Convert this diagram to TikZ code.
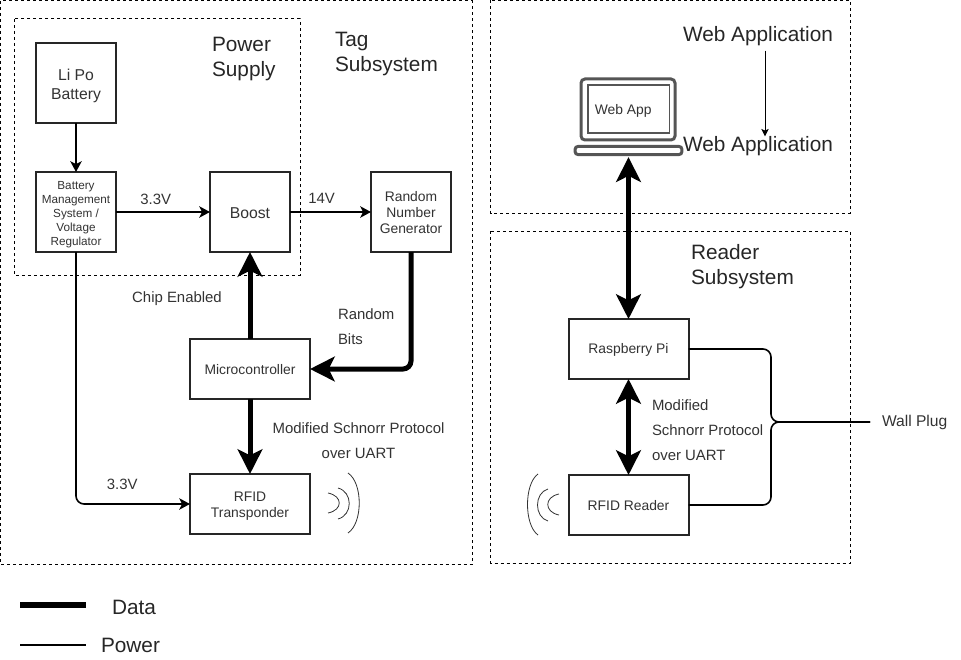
\documentclass[tikz,border=0pt]{standalone}
\usepackage{fontspec}
\setmainfont{Liberation Sans}
\usetikzlibrary{arrows.meta, positioning, calc}
\definecolor{textgray}{RGB}{51, 51, 51}
\definecolor{iconGray}{RGB}{85, 85, 85}
\newcommand{\lift}[1]{\rule{0pt}{#1em}}

\begin{document}
\begin{tikzpicture}[
  x=0.75pt, y=-0.75pt,
  every node/.style={font=\fontsize{11.2}{13}\selectfont, text=textgray, inner sep=0pt, outer sep=0pt},
  block/.style={
    draw=black!85, line width=1.5pt, align=center, fill=white,
    font=\fontsize{10.4}{12}\selectfont,
    execute at begin node={\lift{0.85}}
  },
  square/.style={block, minimum width=60pt, minimum height=60pt},
  wide/.style={block, minimum width=90pt, minimum height=45pt},
  zone/.style={draw=black, line width=0.75pt, dash pattern=on 2.25pt off 2.25pt},
  heading/.style={font=\fontsize{15.6}{18.75}\selectfont, text=black!85, align=left},
  note/.style={font=\fontsize{11.2}{18.75}\selectfont, align=left},
  power/.style={-{Stealth[length=8pt, width=8.5pt, inset=2pt]}, line width=1.2pt, rounded corners=6pt},
  data/.style={-{Stealth[length=18.5pt, width=18.5pt, inset=4.5pt]}, line width=3.75pt, rounded corners=6pt},
  both/.style={data, {Stealth[length=18.5pt, width=18.5pt, inset=4.5pt]}-{Stealth[length=18.5pt, width=18.5pt, inset=4.5pt]}},
  wave/.style={draw=black!80, line width=0.6pt},
  icon/.style={draw=iconGray}
]
  \useasboundingbox (0,0) rectangle (961,660);

  % Dashed areas
  \draw[zone] (0.5,1) rectangle (472,564);
  \draw[zone] (14,19) rectangle (300,275);
  \draw[zone] (490.5,0.5) rectangle (850,213);
  \draw[zone] (490.5,231) rectangle (850,563);

  % Tag blocks
  \node[square, font=\fontsize{11.8}{14.25}\selectfont] (battery) at (76,83) {\lift{1.1}Li Po\\Battery};
  \node[square, below=36.75pt of battery, font=\fontsize{8.8}{10.5}\selectfont] (bms) {\lift{1.07}Battery\\Management\\System /\\Voltage\\Regulator};
  \node[square, right=70.5pt of bms, font=\fontsize{11.8}{14}\selectfont] (boost) {Boost};
  \node[square, right=60.75pt of boost, font=\fontsize{10.4}{12}\selectfont] (rng) {\lift{0.87}Random\\Number\\Generator};
  \node[wide] (mcu) at (250,369) {Microcontroller};
  \node[wide, below=56.25pt of mcu] (transponder) {\lift{1}RFID\\Transponder};

  % Reader blocks
  \node[wide] (pi) at (628.5,349) {Raspberry Pi};
  \node[wide, below=72pt of pi] (reader) {RFID Reader};

  % Laptop
  \draw[icon, line width=2.25pt, rounded corners=3pt] (581,79) rectangle (675,140);
  \node[icon, line width=1pt, minimum width=61pt, minimum height=36pt, font=\fontsize{10.4}{12}\selectfont] (webapp) at (628.5,109) {\hspace*{-8pt}\lift{0.95}Web App};
  \node[icon, line width=2.25pt, rounded corners=2pt, minimum width=80pt, minimum height=6pt] (base) at (628.5,150.5) {};

  % Headings
  \node[heading, anchor=north west] (supplylabel) at (212,37) {Power\\Supply};
  \node[heading, anchor=north west] (taglabel) at (335,32) {Tag\\Subsystem};
  \node[heading, anchor=north west] (readerlabel) at (691,244) {Reader\\Subsystem};
  \node[heading] (webtop) at (758,36) {Web Application};
  \node[heading] (webbottom) at (758,146) {Web Application};

  % Power lines
  \draw[power] (battery) -- (bms);
  \draw[power] (bms) -- (boost) node[midway, above=5.5pt, xshift=-5.5pt] (lowvolt) {3.3V};
  \draw[power] (boost) -- (rng) node[pos=0.39, above=6.5pt] (highvolt) {14V};
  \draw[power] (bms.south) |- (transponder.west) node[pos=0.72, above=10.5pt, xshift=-3pt] (tagvolt) {3.3V};
  \draw[-{Stealth[length=5.5pt, width=5.5pt, inset=1.2pt]}, line width=0.75pt] ([xshift=5.25pt]webtop.south) ++(0,5) -- ([xshift=5.25pt]webbottom.north);

  % Data lines
  \draw[data] (mcu) -- (boost);
  \draw[data] (rng.south) |- (mcu.east);
  \draw[data] (mcu) -- (transponder);
  \draw[both, shorten >=2pt] (pi) -- (base.south);
  \draw[both] (pi) -- (reader);

  % Wall plug
  \node[anchor=west, font=\fontsize{11.7}{14}\selectfont] (plug) at (882,422) {Wall Plug};
  \coordinate (merge) at (771,422);
  \coordinate (plugend) at (870,422);
  \draw[line width=1.2pt, rounded corners=6pt] (pi.east) -| (merge) -- (plugend);
  \draw[line width=1.2pt, rounded corners=6pt] (reader.east) -| (merge) -- (plugend);

  % Notes
  \node (chiplabel) at (177,299) {Chip Enabled};
  \node[note, anchor=west] (bitslabel) at (338,326.5) {Random\\Bits};
  \node[note, align=center] (taguart) at (358.5,441) {Modified Schnorr Protocol\\over UART};
  \node[note, anchor=west] (readeruart) at (652,430) {Modified\\Schnorr Protocol\\over UART};

  % RFID waves
  \draw[wave] (328,493) .. controls (343,496) and (343,510) .. (328,513);
  \draw[wave] (338,488) .. controls (353,492) and (353,515) .. (338,519);
  \draw[wave] (348,473) .. controls (363,483) and (363,523) .. (348,533);
  \draw[wave] (559,494) .. controls (544,497) and (544,512) .. (559,515);
  \draw[wave] (548,489) .. controls (534,493) and (534,517) .. (548,521);
  \draw[wave] (538,474) .. controls (524,484) and (524,525) .. (538,535);

  % Legend
  \coordinate (datastart) at (20,605);
  \coordinate (dataend) at (86,605);
  \coordinate (powerstart) at (20,645);
  \coordinate (powerend) at (86,645);
  \draw[line width=4.2pt] (datastart) -- (dataend);
  \draw[line width=1.2pt] (powerstart) -- (powerend);
  \node[heading, anchor=west] (datalabel) at (112,607) {Data};
  \node[heading, anchor=west] (powerlabel) at (101,645) {Power};
\end{tikzpicture}
\end{document}
